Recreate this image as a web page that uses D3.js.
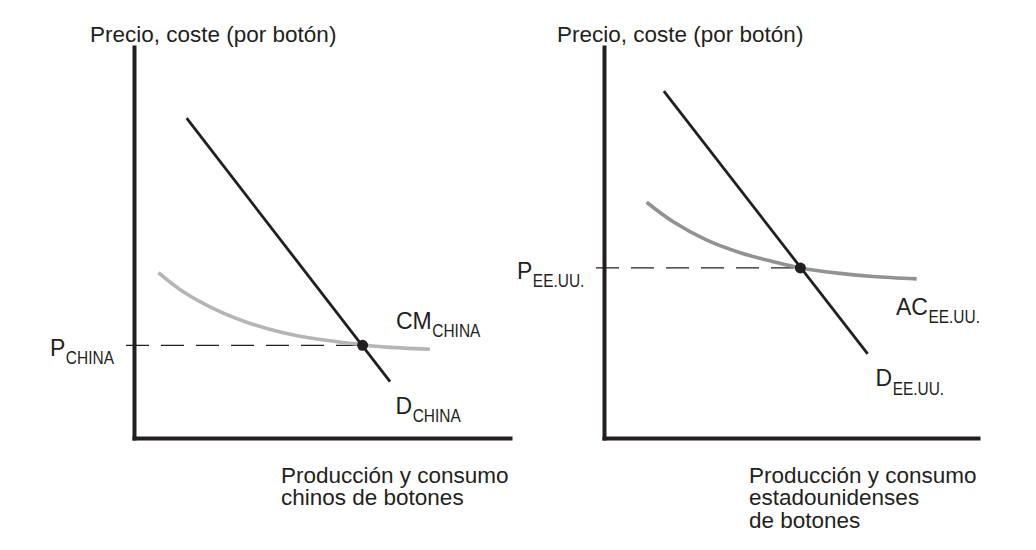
<!DOCTYPE html>
<html>
<head>
<meta charset="utf-8">
<script src="https://cdn.jsdelivr.net/npm/d3@7"></script>
<style>
  html, body { margin: 0; padding: 0; background: #ffffff; }
  svg { display: block; }
  text { font-family: "Liberation Sans", Arial, Helvetica, sans-serif; fill: #231f20; }
</style>
</head>
<body>
<svg id="chart" width="1036" height="550"></svg>
<script>
// ---- Data (in abstract quantity / price units, 0..100) ----
const yAxisTitle = "Precio, coste (por botón)";
const xTitleChina = ["Producción y consumo", "chinos de botones"];
const xTitleUS = ["Producción y consumo", "estadounidenses", "de botones"];

// China panel
const demandChina = [[14.0, 81.8], [68.1, 14.4]];
const costChina = [[6.5, 42.3], [13.1, 37.4], [22.0, 32.7], [30.9, 29.3], [39.7, 26.9], [48.6, 25.3], [59.6, 24.0], [66.3, 23.3], [78.7, 22.7]];
const equilChina = [60.8, 23.7];
const labelsChina = { price: ["P", "CHINA"], cost: ["CM", "CHINA"], demand: ["D", "CHINA"] };

// US panel
const demandUS = [[16.0, 88.7], [70.5, 21.5]];
const costUS = [[11.4, 60.3], [18.5, 55.3], [27.5, 50.6], [36.4, 47.4], [45.3, 45.1], [52.5, 43.5], [63.1, 42.1], [72.0, 41.3], [83.6, 40.7]];
const equilUS = [52.5, 43.5];
const labelsUS = { price: ["P", "EE.UU."], cost: ["AC", "EE.UU."], demand: ["D", "EE.UU."] };

const svg = d3.select("#chart");
const ink = "#231f20";

function subLabel(g, x, y, main, sub) {
  const t = g.append("text").attr("x", x).attr("y", y)
    .style("font-size", "23px").text(main);
  const w = t.node().getComputedTextLength();
  g.append("text")
    .attr("transform", `translate(${x + w + 0.5},${y + 8.5}) scale(0.86,1)`)
    .style("font-size", "18px").text(sub);
}

function panel(cfg) {
  const x = d3.scaleLinear().domain([0, 100]).range([cfg.x0, cfg.x1]);
  const y = d3.scaleLinear().domain([0, 100]).range([438, 47]);
  const g = svg.append("g");

  // axes (no ticks)
  const yAx = g.append("g").attr("transform", `translate(${cfg.x0},0)`)
    .call(d3.axisLeft(y).tickValues([]).tickSizeOuter(0));
  const xAx = g.append("g").attr("transform", `translate(0,${y(0)})`)
    .call(d3.axisBottom(x).tickValues([]).tickSizeOuter(0));
  [yAx, xAx].forEach(a => a.select(".domain").attr("stroke", ink).attr("stroke-width", 4).attr("stroke-linecap", "square"));

  // dashed price line
  g.append("line")
    .attr("x1", cfg.x0 - 8).attr("x2", x(cfg.eq[0]))
    .attr("y1", y(cfg.eq[1])).attr("y2", y(cfg.eq[1]))
    .attr("stroke", ink).attr("stroke-width", 1.2)
    .attr("stroke-dasharray", "23,12");

  // cost curve
  const line = d3.line().x(d => x(d[0])).y(d => y(d[1])).curve(d3.curveCatmullRom.alpha(0.5));
  g.append("path").datum(cfg.cost).attr("d", line)
    .attr("fill", "none").attr("stroke", cfg.costColor).attr("stroke-width", 3.6);

  // demand line
  g.append("path").datum(cfg.demand).attr("d", d3.line().x(d => x(d[0])).y(d => y(d[1])))
    .attr("fill", "none").attr("stroke", ink).attr("stroke-width", 2.8);

  // equilibrium dot
  g.append("circle").attr("cx", x(cfg.eq[0])).attr("cy", y(cfg.eq[1])).attr("r", 5.5).attr("fill", ink);

  // axis titles
  g.append("text").attr("x", cfg.titleX).attr("y", 42).style("font-size", "22.5px").text(yAxisTitle);
  cfg.xTitle.forEach((s, i) => {
    g.append("text").attr("x", cfg.xTitleX).attr("y", 483 + i * 22.3).style("font-size", "22.5px").text(s);
  });

  // labels
  const L = cfg.labels;
  subLabel(g, cfg.priceLabelX, y(cfg.eq[1]) + cfg.priceDy, L.price[0], L.price[1]);
  subLabel(g, cfg.costLab[0], cfg.costLab[1], L.cost[0], L.cost[1]);
  subLabel(g, cfg.demLab[0], cfg.demLab[1], L.demand[0], L.demand[1]);
}

panel({
  x0: 134, x1: 510, demand: demandChina, cost: costChina, eq: equilChina,
  costColor: "#b5b5b5", titleX: 90, xTitle: xTitleChina, xTitleX: 281,
  labels: labelsChina, priceLabelX: 50, priceDy: 10.5,
  costLab: [396, 328.5], demLab: [395.5, 413.5]
});
panel({
  x0: 604, x1: 978, demand: demandUS, cost: costUS, eq: equilUS,
  costColor: "#929292", titleX: 557, xTitle: xTitleUS, xTitleX: 749,
  labels: labelsUS, priceLabelX: 517, priceDy: 11,
  costLab: [896, 314.5], demLab: [875.5, 386]
});
</script>
</body>
</html>
